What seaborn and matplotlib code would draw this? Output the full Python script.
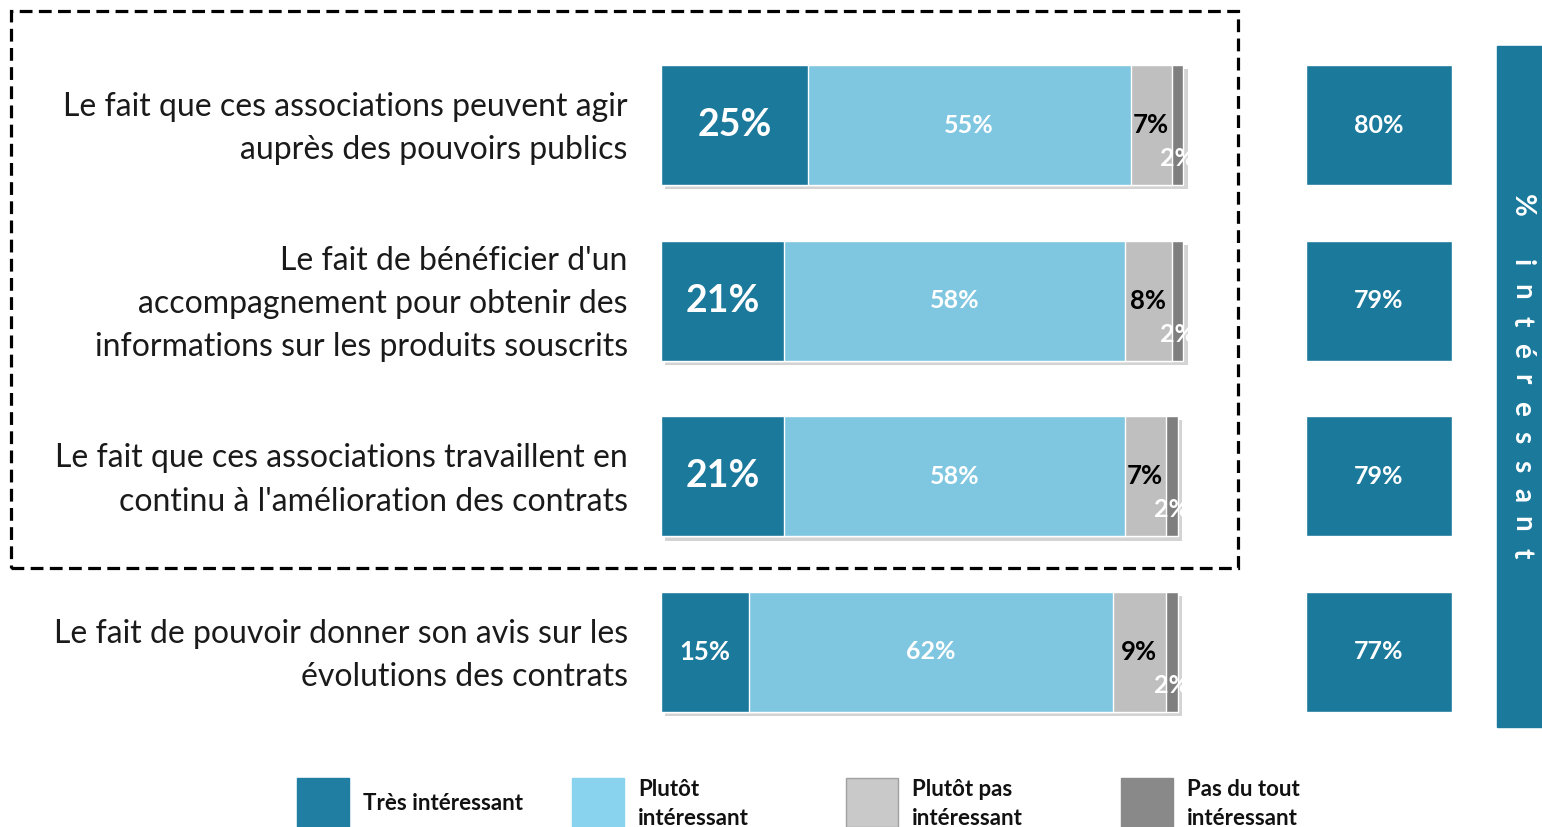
import numpy as np
import pandas as pd
import matplotlib
matplotlib.use("Agg")
import matplotlib.pyplot as plt
import matplotlib.patheffects as pe
import matplotlib.transforms as mtransforms
from matplotlib.patches import Rectangle
import seaborn as sns

# data
items = [
    "Le fait que ces associations peuvent agir\nauprès des pouvoirs publics",
    "Le fait de bénéficier d'un\naccompagnement pour obtenir des\ninformations sur les produits souscrits",
    "Le fait que ces associations travaillent en\ncontinu à l'amélioration des contrats",
    "Le fait de pouvoir donner son avis sur les\névolutions des contrats",
]
tres = [25, 21, 21, 15]
plutot = [55, 58, 58, 62]
plutot_pas = [7, 8, 7, 9]
pas_du_tout = [2, 2, 2, 2]
totals = [80, 79, 79, 77]
series_names = ["Très intéressant", "Plutôt\nintéressant", "Plutôt pas\nintéressant", "Pas du tout\nintéressant"]
band_label = "% intéressant"

colors = ["#1b799c", "#7fc6e0", "#bfbfbf", "#7f7f7f"]
legend_colors = ["#1f7ea1", "#89d3ee", "#c9c9c9", "#898989"]

df = pd.DataFrame({"item": items, "tres": tres, "plutot": plutot,
                   "plutot_pas": plutot_pas, "pas": pas_du_tout, "total": totals})
cols = ["tres", "plutot", "plutot_pas", "pas"]
cum = df[cols].cumsum(axis=1)

sns.set_style("white")
plt.rcParams["font.family"] = ["Lato", "DejaVu Sans"]

W, H = 1542, 827
fig = plt.figure(figsize=(W / 100, H / 100), dpi=100)

bar_w = 0.684
ax_bottom = 1 - 739.75 / H
ax_height = 702.5 / H
ax = fig.add_axes([661 / W, ax_bottom, 587 / W, ax_height])

# stacked bars: draw cumulative sums from back to front
for i in range(len(cols) - 1, -1, -1):
    n_before = len(ax.patches)
    sns.barplot(x=cum[cols[i]], y=df["item"], orient="h", color=colors[i],
                saturation=1, width=bar_w, errorbar=None, ax=ax)
    if i == len(cols) - 1:
        for p in ax.patches[n_before:]:
            p.set_path_effects([pe.SimplePatchShadow(offset=(3, -3), shadow_rgbFace="#b0b0b0", alpha=0.55),
                                pe.Normal()])

ax.set_xlim(0, 100)
ax.set_ylim(3.5, -0.5)
ax.set_xlabel("")
ax.set_ylabel("")
ax.set_xticks([])
ax.tick_params(axis="y", length=0, pad=24, labelsize=23, labelcolor="#1a1a1a")
lift = mtransforms.ScaledTranslation(0, 6 / 100, fig.dpi_scale_trans)
for lbl in ax.get_yticklabels():
    lbl.set_linespacing(1.55)
    lbl.set_transform(lbl.get_transform() + lift)
for s in ax.spines.values():
    s.set_visible(False)
ax.patch.set_alpha(0)

# value labels
for r in range(len(items)):
    starts = [0] + list(cum.iloc[r, :-1])
    for i, c in enumerate(cols):
        v = df[c][r]
        xc = starts[i] + v / 2
        if i == 0:
            ax.text(xc, r, f"{v}%", ha="center", va="center", color="white",
                    fontweight="bold", fontsize=27 if v >= 20 else 18.5)
        elif i == 1:
            ax.text(xc, r, f"{v}%", ha="center", va="center", color="white",
                    fontweight="bold", fontsize=18)
        elif i == 2:
            ax.text(xc, r, f"{v}%", ha="center", va="center", color="black",
                    fontweight="bold", fontsize=18.5)
        else:
            ax.text(xc, r + 0.19, f"{v}%", ha="center", va="center", color="white",
                    fontweight="bold", fontsize=18)

# totals boxes
ax2 = fig.add_axes([1306 / W, ax_bottom, 146 / W, ax_height])
sns.barplot(x=np.ones(len(items)), y=df["item"], orient="h", color=colors[0],
            saturation=1, width=bar_w, errorbar=None, ax=ax2)
ax2.set_xlim(0, 1)
ax2.set_ylim(3.5, -0.5)
ax2.axis("off")
for r, t in enumerate(totals):
    ax2.text(0.5, r, f"{t}%", ha="center", va="center", color="white",
             fontweight="bold", fontsize=18)

# side band with letter-spaced vertical text
fig.patches.append(Rectangle((1497 / W, 1 - 727 / H), 45 / W, 681 / H,
                             transform=fig.transFigure, color=colors[0]))
for k, ch in enumerate(band_label):
    if ch != " ":
        fig.text(1522 / W, 1 - (205 + 29 * k) / H, ch, rotation=-90, ha="center", va="center",
                 color="white", fontweight="bold", fontsize=20)

# dashed frame around first three items
fig.patches.append(Rectangle((11 / W, 1 - 568 / H), 1227 / W, 557 / H,
                             transform=fig.transFigure, fill=False, edgecolor="black",
                             linewidth=2.3, linestyle=(0, (4, 2))))

# legend
leg_x = [297, 572, 846, 1121]
for k, name in enumerate(series_names):
    fig.patches.append(Rectangle((leg_x[k] / W, 0), 52 / W, 49 / H,
                                 transform=fig.transFigure, facecolor=legend_colors[k],
                                 edgecolor="#a0a0a0" if k == 2 else legend_colors[k], linewidth=1))
    fig.text((leg_x[k] + 66) / W, 1 - 804 / H, name, ha="left", va="center",
             fontsize=16, fontweight="bold", color="#111111", linespacing=1.45)

fig.savefig("out.png", dpi=100, facecolor="white")
